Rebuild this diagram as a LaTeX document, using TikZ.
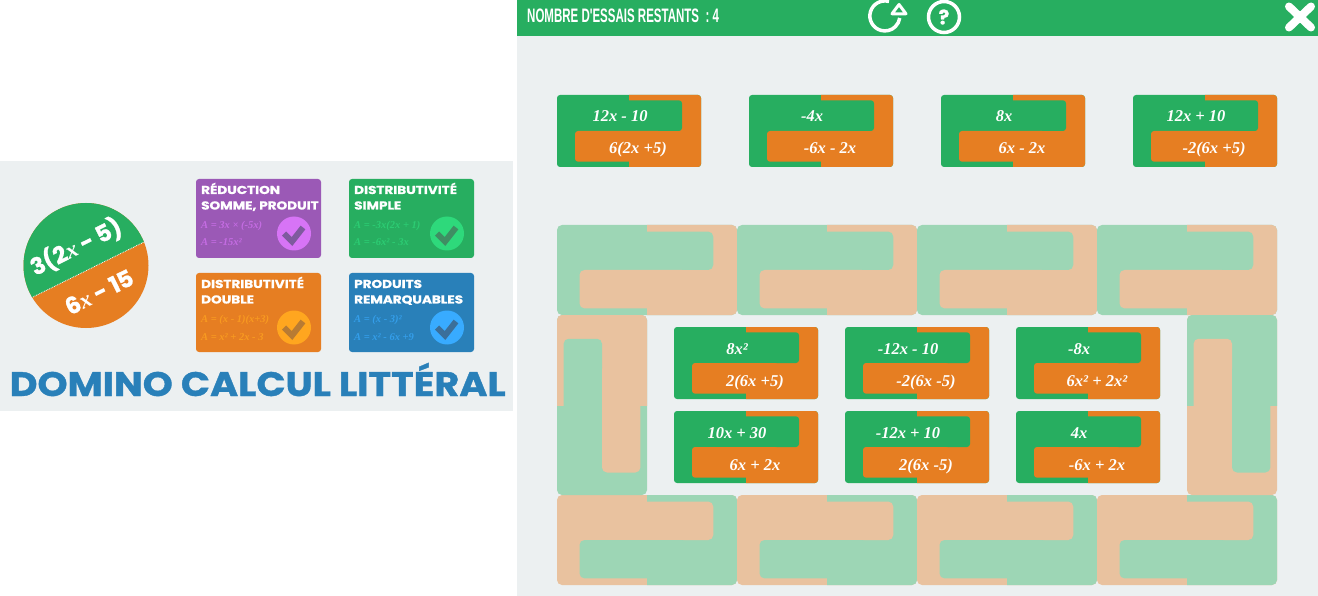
\documentclass[tikz,border=0pt]{standalone}
\usepackage{graphicx}
\usepackage{fontspec}
\setmainfont{Liberation Serif}
\newfontfamily\popfont{Poppins}[BoldFeatures={FakeBold=1}]
\newfontfamily\headfont{Liberation Sans}
\usetikzlibrary{calc}
\definecolor{vert}{HTML}{27AE60}
\definecolor{orange}{HTML}{E67E22}
\definecolor{violet}{HTML}{9B59B6}
\definecolor{bleu}{HTML}{2980B9}
\definecolor{fond}{HTML}{ECF0F1}
\definecolor{palevert}{HTML}{9DD6B5}
\definecolor{paleorange}{HTML}{E9C29F}
\definecolor{clairviolet}{HTML}{D774F6}
\definecolor{clairvert}{HTML}{2ED97B}
\definecolor{clairorange}{HTML}{FFA61F}
\definecolor{clairbleu}{HTML}{38ABFF}
\definecolor{coche violet}{HTML}{7E5A9E}
\definecolor{coche vert}{HTML}{3F8E63}
\definecolor{coche orange}{HTML}{B87B33}
\definecolor{coche bleu}{HTML}{3B6F9A}
\tikzset{
	carte/.style={font=\popfont\bfseries\fontsize{11.5}{13}\selectfont,text=white,anchor=base west,inner sep=0pt},
	formule/.style={font=\bfseries\itshape\fontsize{10.5}{13}\selectfont,anchor=base west,inner sep=0pt},
	valeur/.style={font=\bfseries\itshape\fontsize{16.5}{20}\selectfont,text=white,anchor=base,inner sep=0pt},
	rond/.style={font=\popfont\bfseries\fontsize{23}{26}\selectfont,text=white,rotate=26.3,inner sep=0pt}
}
\newcommand\vx{{\rmfamily\bfseries\itshape x}}
\def\tuile[#1](#2)(#3,#4){% \tuile[scope options](placement)(first colour,second colour)
\begin{scope}[shift={(#2)},rounded corners=3,#1]
	\fill[#3] (0,0) rectangle (144,72);
	\begin{scope}
		\clip[sharp corners] (72,0) rectangle (144,72);
		\fill[#4] (0,0) rectangle (144,72);
	\end{scope}
	\fill[#3] (40,5.3) rectangle (125,36);
	\fill[#4] (18,36) rectangle (104,66.7);
\end{scope}
}
\def\domino(#1,#2)#3#4#5{% \domino(placement){name}{top value}{bottom value}
\tuile[](#1,#2)(vert,orange)
\node[valeur] (#3haut) at (#1+63,#2+27) {#4};
\node[valeur] (#3bas) at (#1+81,#2+59) {#5};
}
\def\regle(#1,#2)#3#4#5#6#7#8#9{% \regle(placement){name}{colour}{light colour}{check colour}{line 1}{line 2}{formula 1}
\fill[#4,rounded corners=3] (#1,#2) rectangle (#1+125,#2+79);
\node[carte] (#3un) at (#1+5,#2+15) {\scalebox{1.18}[1]{#7}};
\node[carte] (#3deux) at (#1+5,#2+30.5) {\scalebox{1.18}[1]{#8}};
\node[formule,text=#5!70!#4] (#3form) at (#1+5,#2+49.5) {#9};
\node[circle,fill=#5,minimum size=34,inner sep=0pt] (#3rond) at (#1+98,#2+54.5) {};
\draw[#6,line width=6] ($(#3rond)+(-10,0)$) -- ($(#3rond)+(-2,8)$) -- ($(#3rond)+(9,-6)$);
}
\begin{document}
\begin{tikzpicture}[x=1pt,y=-1pt]
	\useasboundingbox (0,0) rectangle (1318,596);
	%% left panel
	\fill[fond] (0,161) rectangle (513,411);
	\begin{scope}
		\clip (86,265.5) circle[radius=62.5];
		\fill[orange] (0,200) rectangle (160,340);
		\fill[vert] (20,303.4) -- (152,238) -- (152,190) -- (20,190) -- cycle;
	\end{scope}
	\draw[white,densely dotted,line width=0.8] (33,297) -- (144,242);
	\node[rond] (rondhaut) at (76,247) {3(2\vx{} - 5)};
	\node[rond] (rondbas) at (99,292) {6\vx{} - 15};
	\regle(196,179){reduc}{violet}{clairviolet}{coche violet}{RÉDUCTION}{SOMME, PRODUIT}{A = 3x × (-5x)}
	\node[formule,text=clairviolet!70!violet] (reducform2) at (201,246) {A = -15x²};
	\regle(349,179){simple}{vert}{clairvert}{coche vert}{DISTRIBUTIVITÉ}{SIMPLE}{A = -3x(2x + 1)}
	\node[formule,text=clairvert!70!vert] (simpleform2) at (354,246) {A = -6x² - 3x};
	\regle(196,273){double}{orange}{clairorange}{coche orange}{DISTRIBUTIVITÉ}{DOUBLE}{A = (x - 1)(x+3)}
	\node[formule,text=clairorange!70!orange] (doubleform2) at (201,340) {A = x² + 2x - 3};
	\regle(349,273){produit}{bleu}{clairbleu}{coche bleu}{PRODUITS}{REMARQUABLES}{A = (x - 3)²}
	\node[formule,text=clairbleu!70!bleu] (produitform2) at (354,340) {A = x² - 6x +9};
	\node[anchor=base west,inner sep=0pt,text=bleu,font=\popfont\bfseries\fontsize{34}{36}\selectfont] (titre) at (9.5,396) {\scalebox{1.125}[1]{DOMINO CALCUL LITTÉRAL}};
	%% game panel
	\fill[fond] (517,36) rectangle (1318,596);
	\fill[vert] (517,0) rectangle (1318,36);
	\node[anchor=base west,inner sep=0pt,text=white,font=\headfont\bfseries\fontsize{19.5}{20}\selectfont] (essais) at (527,22.5) {\scalebox{0.59}[1]{NOMBRE D'ESSAIS RESTANTS~~: 4}};
	\draw[white,line width=3.5] (889,1.5) arc[start angle=-74,end angle=-352,radius=15];
	\draw[white,line width=3,line join=round,fill=vert] (899,4.5) -- (892,13.8) -- (906,13.8) -- cycle;
	\node[circle,draw=white,line width=3.5,minimum size=31,inner sep=0pt,text=white,font=\popfont\bfseries\fontsize{20}{22}\selectfont] (aide) at (944,17) {?};
	\draw[white,line width=8,line cap=round] (1289,6.5) -- (1311,27.5);
	\draw[white,line width=8,line cap=round] (1311,6.5) -- (1289,27.5);
	%% dominoes to place
	\domino(557,95){a}{12x - 10}{6(2x +5)}
	\domino(749,95){b}{-4x}{-6x - 2x}
	\domino(941,95){c}{8x}{6x - 2x}
	\domino(1133,95){d}{12x + 10}{-2(6x +5)}
	%% board
	\tuile[scale=1.25,rounded corners=5](557,225)(palevert,paleorange)
	\tuile[scale=1.25,rounded corners=5](737,225)(palevert,paleorange)
	\tuile[scale=1.25,rounded corners=5](917,225)(palevert,paleorange)
	\tuile[scale=1.25,rounded corners=5](1097,225)(palevert,paleorange)
	\tuile[scale=1.25,rounded corners=5](557,495)(paleorange,palevert)
	\tuile[scale=1.25,rounded corners=5](737,495)(paleorange,palevert)
	\tuile[scale=1.25,rounded corners=5](917,495)(paleorange,palevert)
	\tuile[scale=1.25,rounded corners=5](1097,495)(paleorange,palevert)
	\tuile[scale=1.25,rotate=90,rounded corners=5](557,495)(palevert,paleorange)
	\tuile[scale=1.25,rotate=90,rounded corners=5](1187,495)(paleorange,palevert)
	%% dominoes in the middle
	\domino(674,327){e}{8x²}{2(6x +5)}
	\domino(845,327){f}{-12x - 10}{-2(6x -5)}
	\domino(1016,327){g}{-8x}{6x² + 2x²}
	\domino(674,411){h}{10x + 30}{6x + 2x}
	\domino(845,411){i}{-12x + 10}{2(6x -5)}
	\domino(1016,411){j}{4x}{-6x + 2x}
\end{tikzpicture}
\end{document}
